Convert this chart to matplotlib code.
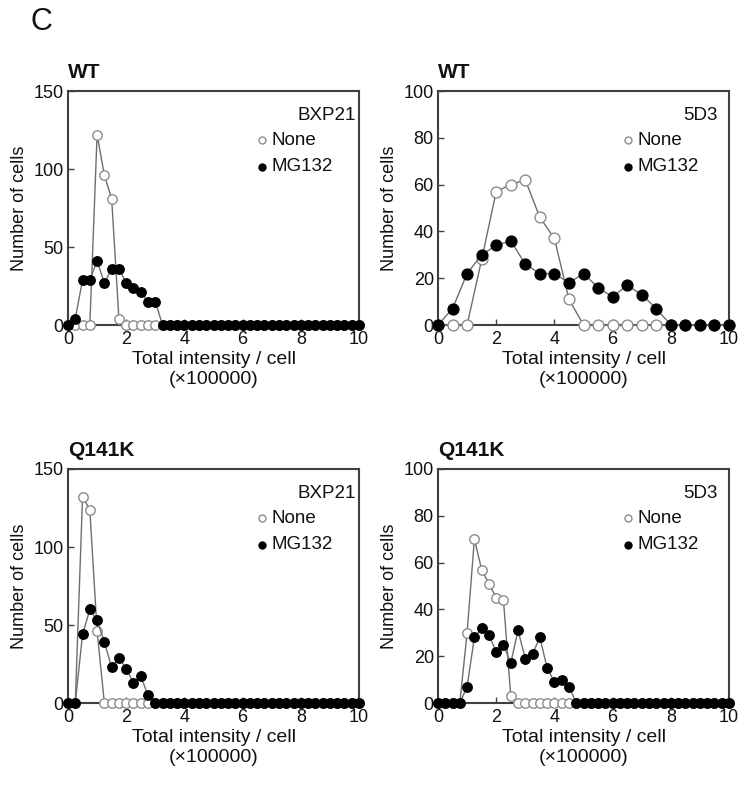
import numpy as np
import matplotlib
matplotlib.use("Agg")
import matplotlib.pyplot as plt

plt.rcParams['font.family'] = ['Liberation Sans', 'DejaVu Sans']

# ---- data ----
x_fine = np.linspace(0, 10, 41)    # bins of 0.25 (x100000)
x_coarse = np.linspace(0, 10, 21)  # bins of 0.5 (x100000)

wt_bxp21_none = [0, 0, 0, 0, 122, 96, 81, 4, 0, 0, 0, 0, 0, 0, 0, 0, 0, 0, 0, 0,
                 0, 0, 0, 0, 0, 0, 0, 0, 0, 0, 0, 0, 0, 0, 0, 0, 0, 0, 0, 0, 0]
wt_bxp21_mg132 = [0, 4, 29, 29, 41, 27, 36, 36, 27, 24, 21, 15, 15, 0, 0, 0, 0, 0, 0, 0,
                  0, 0, 0, 0, 0, 0, 0, 0, 0, 0, 0, 0, 0, 0, 0, 0, 0, 0, 0, 0, 0]

wt_5d3_none = [0, 0, 0, 28, 57, 60, 62, 46, 37, 11, 0, 0, 0, 0, 0, 0, 0, 0, 0, 0, 0]
wt_5d3_mg132 = [0, 7, 22, 30, 34, 36, 26, 22, 22, 18, 22, 16, 12, 17, 13, 7, 0, 0, 0, 0, 0]

q_bxp21_none = [0, 0, 132, 124, 46, 0, 0, 0, 0, 0, 0, 0, 0, 0, 0, 0, 0, 0, 0, 0,
                0, 0, 0, 0, 0, 0, 0, 0, 0, 0, 0, 0, 0, 0, 0, 0, 0, 0, 0, 0, 0]
q_bxp21_mg132 = [0, 0, 44, 60, 53, 39, 23, 29, 22, 13, 17, 5, 0, 0, 0, 0, 0, 0, 0, 0,
                 0, 0, 0, 0, 0, 0, 0, 0, 0, 0, 0, 0, 0, 0, 0, 0, 0, 0, 0, 0, 0]

q_5d3_none = [0, 0, 0, 0, 30, 70, 57, 51, 45, 44, 3, 0, 0, 0, 0, 0, 0, 0, 0, 0,
              0, 0, 0, 0, 0, 0, 0, 0, 0, 0, 0, 0, 0, 0, 0, 0, 0, 0, 0, 0, 0]
q_5d3_mg132 = [0, 0, 0, 0, 7, 28, 32, 29, 22, 25, 17, 31, 19, 21, 28, 15, 9, 10, 7, 0,
               0, 0, 0, 0, 0, 0, 0, 0, 0, 0, 0, 0, 0, 0, 0, 0, 0, 0, 0, 0, 0]

panels = [
    ("WT", "BXP21", x_fine, wt_bxp21_none, wt_bxp21_mg132, 150, [0, 50, 100, 150]),
    ("WT", "5D3", x_coarse, wt_5d3_none, wt_5d3_mg132, 100, [0, 20, 40, 60, 80, 100]),
    ("Q141K", "BXP21", x_fine, q_bxp21_none, q_bxp21_mg132, 150, [0, 50, 100, 150]),
    ("Q141K", "5D3", x_fine, q_5d3_none, q_5d3_mg132, 100, [0, 20, 40, 60, 80, 100]),
]
xticks = [0, 2, 4, 6, 8, 10]

# ---- layout ----
W, H = 749, 790
fig = plt.figure(figsize=(W / 100, H / 100), dpi=100)
boxes = [(68, 91, 359, 325), (438, 91, 729, 325), (68, 469, 359, 703), (438, 469, 729, 703)]

spine_c = '#404040'
line_c = '#6e6e6e'
open_c = '#8c8c8c'
txt_c = '#111111'

for (title, stain, xs, none_v, mg_v, ymax, yt), (l, t, r, b) in zip(panels, boxes):
    ax = fig.add_axes([l / W, 1 - b / H, (r - l) / W, (b - t) / H])
    ms = 7.8 if len(xs) == 21 else 6.8
    ax.plot(xs, none_v, '-', color=line_c, lw=1.0, marker='o', ms=ms, mfc='white',
            mec=open_c, mew=1.0, clip_on=False, zorder=3)
    ax.plot(xs, mg_v, '-', color=line_c, lw=1.0, marker='o', ms=ms, mfc='black',
            mec='black', mew=1.0, clip_on=False, zorder=4)
    ax.set_xlim(0, 10)
    ax.set_ylim(0, ymax)
    ax.set_xticks(xticks)
    ax.set_yticks(yt)
    for s in ax.spines.values():
        s.set_color(spine_c)
        s.set_linewidth(1.5)
    ax.tick_params(direction='in', length=4, width=1, color=spine_c, labelsize=13,
                   labelcolor=txt_c)
    ax.tick_params(axis='x', pad=4.5)
    ax.tick_params(axis='y', pad=3)
    ax.set_xlabel("Total intensity / cell\n(×100000)", fontsize=14, linespacing=1.25,
                  labelpad=2, color=txt_c)
    ax.set_ylabel("Number of cells", fontsize=13, labelpad=4, color=txt_c)
    ax.set_title(title, loc='left', fontsize=15, fontweight='bold', pad=9, color=txt_c)

    # legend block
    ax.text(0.99 if stain == "BXP21" else 0.962, 0.897, stain, transform=ax.transAxes,
            ha='right', va='center', fontsize=13.5, color=txt_c)
    mx = 0.667 if stain == "BXP21" else 0.653
    ax.plot([mx], [0.790], transform=ax.transAxes, marker='o', ms=5, mfc='white',
            mec=open_c, mew=1.0, clip_on=False)
    ax.plot([mx], [0.677], transform=ax.transAxes, marker='o', ms=5, mfc='black',
            mec='black', mew=1.0, clip_on=False)
    ax.text(mx + 0.033, 0.790, "None", transform=ax.transAxes, ha='left', va='center',
            fontsize=13.5, color=txt_c)
    ax.text(mx + 0.033, 0.677, "MG132", transform=ax.transAxes, ha='left', va='center',
            fontsize=13.5, color=txt_c)

fig.text(31 / W, 1 - 22 / H, "C", fontsize=22, ha='left', va='center', color=txt_c)

fig.savefig("out.png", dpi=100)
